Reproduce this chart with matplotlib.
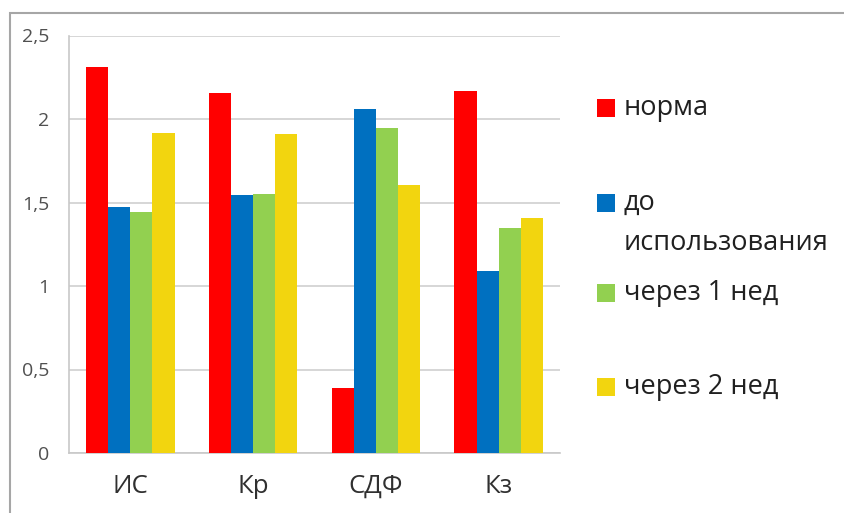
import matplotlib
matplotlib.use("Agg")
import matplotlib.pyplot as plt
from matplotlib.patches import Rectangle
import numpy as np

plt.rcParams['font.family'] = ['Open Sans', 'DejaVu Sans']

categories = ["ИС", "Кр", "СДФ", "Кз"]
series_names = ["норма", "до\nиспользования", "через 1 нед", "через 2 нед"]
norma = [2.31, 2.155, 0.39, 2.165]
before_use = [1.475, 1.545, 2.06, 1.09]
after_1_week = [1.445, 1.55, 1.945, 1.345]
after_2_weeks = [1.915, 1.91, 1.605, 1.41]
series_values = [norma, before_use, after_1_week, after_2_weeks]
colors = ["#ff0000", "#0070c0", "#92d050", "#f2d50f"]
y_ticks = [0, 0.5, 1, 1.5, 2, 2.5]
y_tick_labels = ["0", "0,5", "1", "1,5", "2", "2,5"]

W, H = 844, 513
fig = plt.figure(figsize=(W / 100, H / 100), dpi=100)

# outer chart frame (runs off the right and bottom edges)
fig.patches.append(Rectangle((10 / W, -0.05), 1.0, 1 - 13 / H + 0.05,
                             transform=fig.transFigure, fill=False,
                             edgecolor="#a6a6a6", linewidth=1.5))

ax = fig.add_axes([69 / W, 1 - 453 / H, (560 - 69) / W, (453 - 35.5) / H])

n = len(series_values)
group_w = 0.72
bar_w = group_w / n
x = np.arange(len(categories))
for i, (vals, c) in enumerate(zip(series_values, colors)):
    ax.bar(x - group_w / 2 + bar_w * (i + 0.5), vals, width=bar_w, color=c,
           zorder=3, linewidth=0)

ax.set_xlim(-0.5, len(categories) - 0.5)
ax.set_ylim(0, 2.5)
ax.set_yticks(y_ticks)
ax.set_yticklabels(y_tick_labels, fontsize=14, color="#505050")
ax.set_xticks(x)
ax.set_xticklabels(categories, fontsize=18.5, color="#303030")
ax.tick_params(axis="y", length=0, pad=14)
ax.tick_params(axis="x", length=0, pad=15)
ax.grid(axis="y", color="#d0d0d0", linewidth=1.2, zorder=0)
for s in ["top", "right"]:
    ax.spines[s].set_visible(False)
ax.spines["left"].set_color("#c8c8c8")
ax.spines["bottom"].set_color("#c8c8c8")
ax.spines["left"].set_linewidth(1.2)
ax.spines["bottom"].set_linewidth(1.2)

# legend on the right
legend_y = [108, 203, 293, 387]
line_step = 40
for name, c, yy in zip(series_names, colors, legend_y):
    fig.patches.append(Rectangle((597 / W, 1 - (yy + 9) / H), 18 / W, 18 / H,
                                 transform=fig.transFigure, facecolor=c,
                                 edgecolor="none"))
    for k, line in enumerate(name.split("\n")):
        fig.text(624 / W, 1 - (yy + k * line_step) / H, line, fontsize=19.5,
                 color="#202020", va="center", ha="left")

fig.savefig("out.png", dpi=100, facecolor="white")
